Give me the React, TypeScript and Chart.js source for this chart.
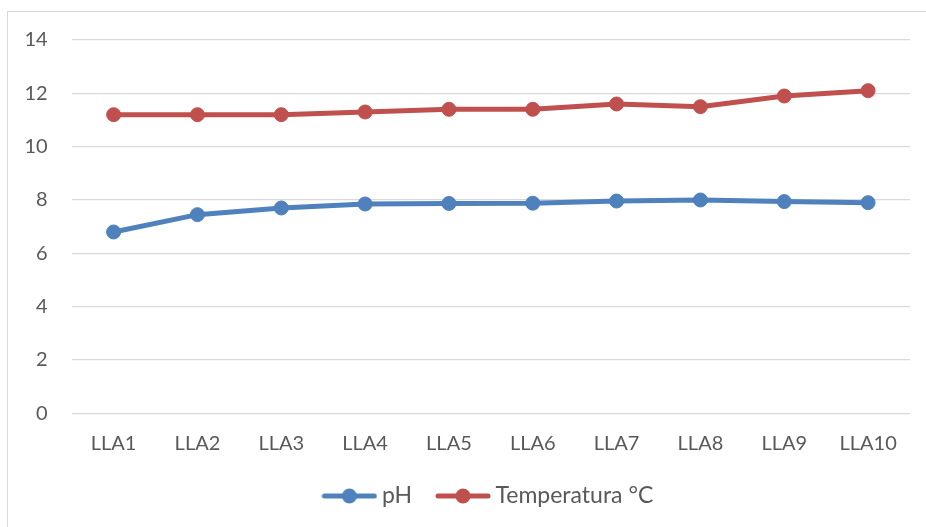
import React, { useEffect, useRef } from "react";
import { Chart, registerables } from "chart.js";

Chart.register(...registerables);

const categories = ["LLA1", "LLA2", "LLA3", "LLA4", "LLA5", "LLA6", "LLA7", "LLA8", "LLA9", "LLA10"];
const phValues = [6.8, 7.45, 7.7, 7.85, 7.87, 7.88, 7.96, 8.0, 7.94, 7.9];
const tempValues = [11.2, 11.2, 11.2, 11.3, 11.4, 11.4, 11.6, 11.5, 11.9, 12.1];
const seriesNames = ["pH", "Temperatura °C"];
const seriesColors = ["#4F81BD", "#C0504D"];
const yTicks = { min: 0, max: 14, step: 2 };

const TEXT = "#595959";
const GRID = "#D9D9D9";
const FONT = "Lato";

function makeMarker(color: string): HTMLCanvasElement {
  const c = document.createElement("canvas");
  c.width = 56;
  c.height = 20;
  const ctx = c.getContext("2d")!;
  ctx.strokeStyle = color;
  ctx.lineWidth = 5;
  ctx.lineCap = "round";
  ctx.beginPath();
  ctx.moveTo(3, 10);
  ctx.lineTo(53, 10);
  ctx.stroke();
  ctx.fillStyle = color;
  ctx.beginPath();
  ctx.arc(28, 10, 7.5, 0, Math.PI * 2);
  ctx.fill();
  return c;
}

const borderPlugin = {
  id: "outerBorder",
  beforeDraw(chart: any) {
    const ctx = chart.ctx;
    ctx.save();
    ctx.fillStyle = "#FFFFFF";
    ctx.fillRect(0, 0, chart.width, chart.height);
    ctx.strokeStyle = GRID;
    ctx.lineWidth = 1;
    ctx.strokeRect(7.5, 11.5, chart.width + 10, chart.height + 10);
    ctx.restore();
  },
};

export default function App() {
  const ref = useRef<HTMLCanvasElement>(null);
  useEffect(() => {
    if (!ref.current) return;
    const markers = seriesColors.map(makeMarker);
    const chart = new Chart(ref.current, {
      type: "line",
      data: {
        labels: categories,
        datasets: [
          {
            label: seriesNames[0],
            data: phValues,
            borderColor: seriesColors[0],
            backgroundColor: seriesColors[0],
            borderWidth: 5,
            pointRadius: 7,
            pointBorderWidth: 1,
            pointBackgroundColor: seriesColors[0],
            pointBorderColor: seriesColors[0],
            tension: 0,
          },
          {
            label: seriesNames[1],
            data: tempValues,
            borderColor: seriesColors[1],
            backgroundColor: seriesColors[1],
            borderWidth: 5,
            pointRadius: 7,
            pointBorderWidth: 1,
            pointBackgroundColor: seriesColors[1],
            pointBorderColor: seriesColors[1],
            tension: 0,
          },
        ],
      },
      options: {
        responsive: false,
        animation: false,
        layout: { padding: { left: 8, right: 16, top: 40, bottom: 9.5 } },
        plugins: {
          tooltip: { enabled: false },
          legend: {
            position: "bottom",
            fullSize: false,
            labels: {
              usePointStyle: true,
              pointStyleWidth: 42,
              padding: 30,
              color: TEXT,
              font: { family: FONT, size: 23 },
              generateLabels: (ch: any) =>
                ch.data.datasets.map((ds: any, i: number) => ({
                  text: ds.label,
                  fillStyle: ds.borderColor,
                  strokeStyle: ds.borderColor,
                  lineWidth: 0,
                  pointStyle: markers[i],
                  hidden: false,
                  datasetIndex: i,
                  fontColor: TEXT,
                })),
            },
          },
        },
        scales: {
          x: {
            offset: true,
            grid: { display: false },
            border: { display: false },
            ticks: {
              color: TEXT,
              font: { family: FONT, size: 20 },
              padding: 10.5,
              autoSkip: false,
              maxRotation: 0,
            },
            afterFit: (s: any) => {
              s.height = 41.2;
            },
          },
          y: {
            min: yTicks.min,
            max: yTicks.max,
            grid: { color: GRID, lineWidth: 1.3, drawTicks: false },
            border: { display: false },
            ticks: {
              stepSize: yTicks.step,
              color: TEXT,
              font: { family: FONT, size: 20 },
              padding: 24,
            },
            afterFit: (s: any) => {
              s.width = 63.7;
            },
          },
        },
      },
      plugins: [borderPlugin],
    } as any);
    return () => chart.destroy();
  }, []);
  return (
    <div style={{ position: "absolute", left: 0, top: 0, width: 926, height: 527 }}>
      <canvas ref={ref} width={926} height={527} />
    </div>
  );
}
